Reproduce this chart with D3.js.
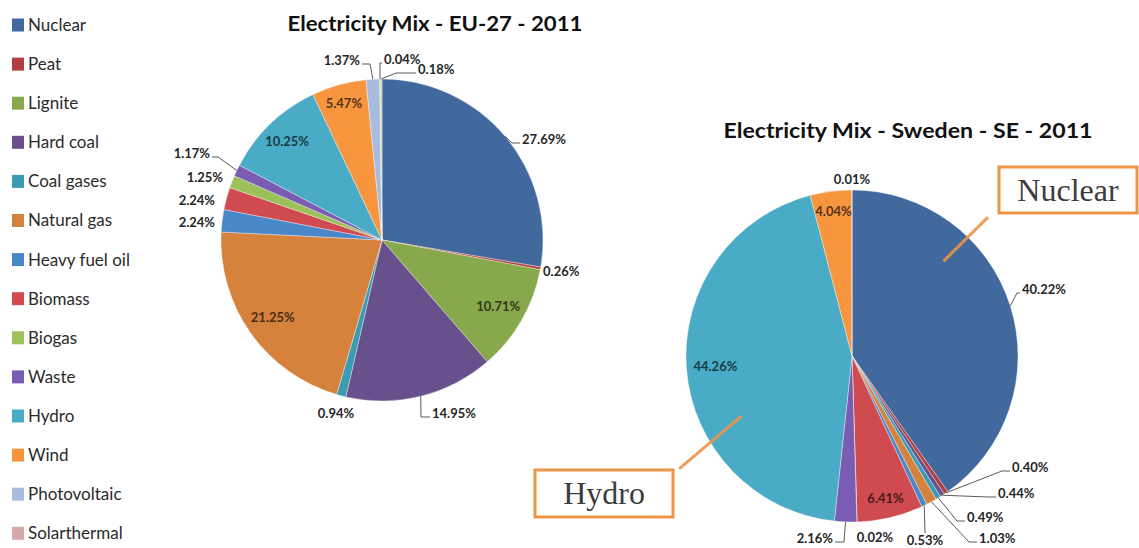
<!DOCTYPE html>
<html>
<head>
<meta charset="utf-8">
<script src="https://cdn.jsdelivr.net/npm/d3@7"></script>
<style>
  html, body { margin: 0; padding: 0; background: #fff; }
  svg { display: block; }
</style>
</head>
<body>
<svg id="chart" width="1139" height="548"></svg>
<script>
// Generation sources, in the order they run clockwise round each pie
const categories = ["Nuclear", "Peat", "Lignite", "Hard coal", "Coal gases", "Natural gas",
  "Heavy fuel oil", "Biomass", "Biogas", "Waste", "Hydro", "Wind", "Photovoltaic",
  "Solarthermal", "Geothermal"];
const colors = ["#41699d", "#b23c40", "#88a84c", "#67508b", "#3b9bb3", "#d6823c",
  "#4a87c8", "#cf4b4f", "#9cc05a", "#7a5cb2", "#4aabc7", "#f7963f", "#a8bce0",
  "#d6a8a9", "#c4d79b"];

// Share of gross electricity generation, %
const euValues = [27.69, 0.26, 10.71, 14.95, 0.94, 21.25, 2.24, 2.24, 1.25, 1.17, 10.25, 5.47, 1.37, 0.04, 0.18];
const seValues = [40.22, 0.40, 0, 0.44, 0.49, 1.03, 0.53, 6.41, 0.02, 2.16, 44.26, 4.04, 0.01, 0, 0];

const euTitle = "Electricity Mix - EU-27 - 2011";
const seTitle = "Electricity Mix - Sweden - SE - 2011";

// Where each data label goes: inside at a radius, or outside at an offset from the pie centre
const euLabelSpec = {
  "Nuclear":        { pos: [140, -101], anchor: "start", leader: 8 },
  "Peat":           { pos: [161, 31],   anchor: "start" },
  "Lignite":        { r: 134 },
  "Hard coal":      { pos: [50, 173],   anchor: "start", leader: 9 },
  "Coal gases":     { pos: [-46, 173],  anchor: "middle" },
  "Natural gas":    { r: 134 },
  "Heavy fuel oil": { pos: [-167, -18], anchor: "end" },
  "Biomass":        { pos: [-167, -40], anchor: "end" },
  "Biogas":         { pos: [-159, -63], anchor: "end" },
  "Waste":          { pos: [-172, -87], anchor: "end", leader: 6 },
  "Hydro":          { r: 137 },
  "Wind":           { r: 142 },
  "Photovoltaic":   { pos: [-22, -180], anchor: "end", leader: 8 },
  "Solarthermal":   { pos: [2, -181],   anchor: "start", leader: 2 },
  "Geothermal":     { pos: [36, -171],  anchor: "start", leader: 20 }
};
const seLabelSpec = {
  "Nuclear":        { pos: [170, -67],  anchor: "start", leader: 3 },
  "Peat":           { pos: [160, 111],  anchor: "start", leader: 8 },
  "Hard coal":      { pos: [146, 137],  anchor: "start", leader: 8 },
  "Coal gases":     { pos: [115, 161],  anchor: "start", leader: 8 },
  "Natural gas":    { pos: [127, 182],  anchor: "start", leader: 8 },
  "Heavy fuel oil": { pos: [73, 184],   anchor: "middle", leader: "top" },
  "Biomass":        { r: 146 },
  "Biogas":         { pos: [23, 181],   anchor: "middle" },
  "Waste":          { pos: [-19, 182],  anchor: "end", leader: 9 },
  "Hydro":          { r: 137 },
  "Wind":           { r: 146 },
  "Photovoltaic":   { pos: [0, -177],   anchor: "middle" }
};

const svg = d3.select("#chart");
const fmt = d3.format(".2f");
const deg = Math.PI / 180;
const labelFont = "Lato, 'Open Sans', sans-serif";

// ---- Legend ----
const legendTop = 25, legendStep = 39.1;
const legendRows = categories.filter((c, i) => legendTop + i * legendStep < 548 - 8);
const legend = svg.append("g").attr("transform", "translate(12,0)");
const lg = legend.selectAll("g").data(legendRows).join("g")
  .attr("transform", (d, i) => `translate(0,${legendTop + i * legendStep})`);
lg.append("rect").attr("x", 0).attr("y", -6.5).attr("width", 12).attr("height", 13)
  .attr("fill", d => colors[categories.indexOf(d)]);
lg.append("text").attr("x", 16).attr("y", 0).attr("dy", "0.35em")
  .attr("font-family", labelFont).attr("font-size", 17)
  .attr("fill", "#2b2b2b").text(d => d);

// ---- Pies ----
function drawPie(cx, cy, R, values, spec, title, titleY, titleBox) {
  const g = svg.append("g").attr("transform", `translate(${cx},${cy})`);
  const data = categories.map((name, i) => ({ name, value: values[i], color: colors[i] }))
    .filter(d => d.value > 0);
  const arcs = d3.pie().sort(null).value(d => d.value)(data);
  const arc = d3.arc().innerRadius(0).outerRadius(R);

  g.selectAll("path.slice").data(arcs).join("path").attr("class", "slice")
    .attr("d", arc).attr("fill", d => d.data.color)
    .attr("stroke", "#ffffff").attr("stroke-width", 0.5).attr("stroke-opacity", 0.7);

  const mid = d => (d.startAngle + d.endAngle) / 2;

  arcs.forEach(d => {
    const s = spec[d.data.name];
    if (!s) return;
    const label = fmt(d.data.value) + "%";
    if (s.r !== undefined) {
      const [x, y] = d3.pointRadial(mid(d), s.r);
      g.append("text").attr("x", x).attr("y", y).attr("dy", "0.35em")
        .attr("text-anchor", "middle")
        .attr("font-family", labelFont).attr("font-weight", 700)
        .attr("font-size", 13)
        .attr("fill", d3.color(d.data.color).darker(3))
        .text(label);
      return;
    }
    const [x, y] = s.pos;
    if (s.leader !== undefined) {
      const p0 = d3.pointRadial(mid(d), R);
      let pts;
      if (s.leader === "top") {
        pts = [p0, [x, y - 7]];
      } else {
        const dir = s.anchor === "end" ? 1 : -1;
        const attach = [x + dir * 2, y + 4];
        pts = [p0, [attach[0] + dir * s.leader, attach[1]], attach];
      }
      g.append("path").attr("d", d3.line()(pts))
        .attr("fill", "none").attr("stroke", "#5a5a5a").attr("stroke-width", 1);
    }
    g.append("text").attr("x", x).attr("y", y).attr("dy", "0.35em")
      .attr("text-anchor", s.anchor)
      .attr("font-family", labelFont).attr("font-weight", 700)
      .attr("font-size", 13).attr("fill", "#262626")
      .text(label);
  });

  svg.append("text").attr("x", cx + titleBox.offset).attr("y", titleY)
    .attr("text-anchor", "middle")
    .attr("font-family", labelFont).attr("font-weight", 700)
    .attr("font-size", 21).attr("fill", "#111")
    .attr("textLength", titleBox.w).attr("lengthAdjust", "spacingAndGlyphs")
    .text(title);
  return g;
}

const euPie = drawPie(382, 240, 161, euValues, euLabelSpec, euTitle, 31, { w: 295, offset: 53 });
const sePie = drawPie(852, 356, 166, seValues, seLabelSpec, seTitle, 138, { w: 369, offset: 56 });

// ---- Call-out boxes pointing into the Swedish pie ----
const callouts = [
  { text: "Nuclear", box: [147, -189, 138, 46], line: [[44, 133], [44.4, 193]] },
  { text: "Hydro",   box: [-317, 114, 138, 47], line: [[241.4, 127], [236.9, 205]] }
];
const orange = "#ec9546";
callouts.forEach(c => {
  const [bx, by, bw, bh] = c.box;
  sePie.append("path")
    .attr("d", d3.line()(c.line.map(([a, r]) => d3.pointRadial(a * deg, r))))
    .attr("stroke", orange).attr("stroke-width", 3).attr("stroke-linecap", "round")
    .attr("fill", "none").attr("opacity", 0.9);
  sePie.append("rect").attr("x", bx).attr("y", by).attr("width", bw).attr("height", bh)
    .attr("fill", "#fff").attr("stroke", orange).attr("stroke-width", 3);
  sePie.append("text").attr("x", bx + bw / 2).attr("y", by + bh / 2).attr("dy", "0.33em")
    .attr("text-anchor", "middle")
    .attr("font-family", "'Liberation Serif', 'DejaVu Serif', serif")
    .attr("font-size", 32).attr("fill", "#3c3c3c")
    .text(c.text);
});
</script>
</body>
</html>
